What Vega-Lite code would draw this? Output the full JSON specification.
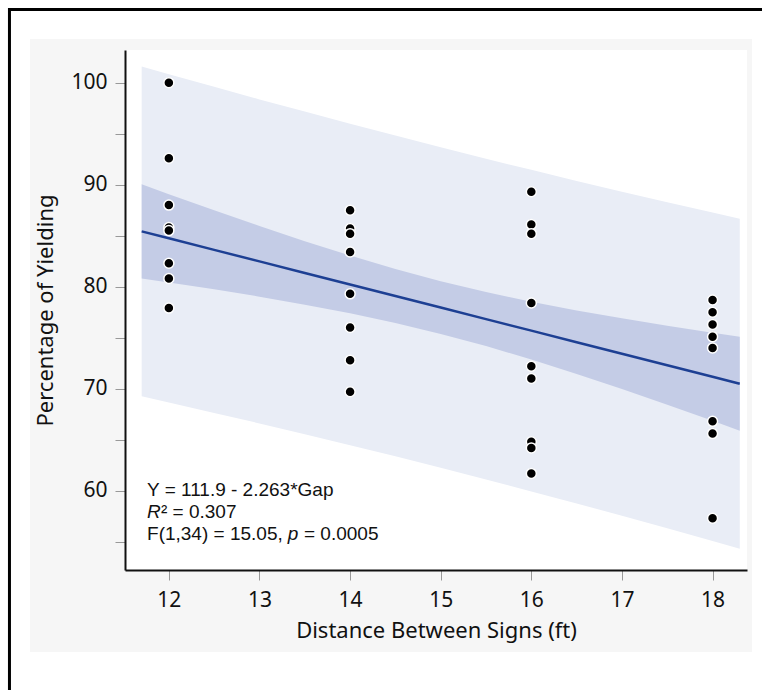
{
  "$schema": "https://vega.github.io/schema/vega-lite/v6.json",
  "width": 622,
  "height": 520,
  "autosize": {"type": "none"},
  "padding": {"left": 125, "top": 50, "right": 15, "bottom": 120},
  "background": "white",
  "config": {
    "view": {"stroke": null},
    "font": "Noto Sans"
  },
  "datasets": {
    "pts": [
      {"gap": 12, "pct": 100.0}, {"gap": 12, "pct": 92.6}, {"gap": 12, "pct": 88.0}, {"gap": 12, "pct": 85.8},
      {"gap": 12, "pct": 85.5}, {"gap": 12, "pct": 82.3}, {"gap": 12, "pct": 80.8}, {"gap": 12, "pct": 77.9},
      {"gap": 14, "pct": 87.5}, {"gap": 14, "pct": 85.7}, {"gap": 14, "pct": 85.2}, {"gap": 14, "pct": 83.4},
      {"gap": 14, "pct": 79.3}, {"gap": 14, "pct": 76.0}, {"gap": 14, "pct": 72.8}, {"gap": 14, "pct": 69.7},
      {"gap": 16, "pct": 89.3}, {"gap": 16, "pct": 86.1}, {"gap": 16, "pct": 85.2}, {"gap": 16, "pct": 78.4},
      {"gap": 16, "pct": 72.2}, {"gap": 16, "pct": 71.0}, {"gap": 16, "pct": 64.8}, {"gap": 16, "pct": 64.2},
      {"gap": 16, "pct": 61.7},
      {"gap": 18, "pct": 78.7}, {"gap": 18, "pct": 77.5}, {"gap": 18, "pct": 76.3}, {"gap": 18, "pct": 75.1},
      {"gap": 18, "pct": 74.0}, {"gap": 18, "pct": 66.8}, {"gap": 18, "pct": 65.6}, {"gap": 18, "pct": 57.3}
    ],
    "band": [
      {"gap": 11.7, "fit": 85.42, "ci_lo": 80.81, "ci_hi": 90.03, "pi_lo": 69.25, "pi_hi": 101.59},
      {"gap": 12.0, "fit": 84.74, "ci_lo": 80.42, "ci_hi": 89.06, "pi_lo": 68.65, "pi_hi": 100.83},
      {"gap": 12.5, "fit": 83.61, "ci_lo": 79.74, "ci_hi": 87.49, "pi_lo": 67.63, "pi_hi": 99.59},
      {"gap": 13.0, "fit": 82.48, "ci_lo": 79.02, "ci_hi": 85.95, "pi_lo": 66.60, "pi_hi": 98.36},
      {"gap": 13.5, "fit": 81.35, "ci_lo": 78.24, "ci_hi": 84.46, "pi_lo": 65.54, "pi_hi": 97.16},
      {"gap": 14.0, "fit": 80.22, "ci_lo": 77.39, "ci_hi": 83.05, "pi_lo": 64.46, "pi_hi": 95.98},
      {"gap": 14.5, "fit": 79.09, "ci_lo": 76.44, "ci_hi": 81.73, "pi_lo": 63.37, "pi_hi": 94.81},
      {"gap": 15.0, "fit": 77.96, "ci_lo": 75.37, "ci_hi": 80.54, "pi_lo": 62.25, "pi_hi": 93.67},
      {"gap": 15.5, "fit": 76.82, "ci_lo": 74.18, "ci_hi": 79.47, "pi_lo": 61.10, "pi_hi": 92.54},
      {"gap": 16.0, "fit": 75.69, "ci_lo": 72.86, "ci_hi": 78.52, "pi_lo": 59.93, "pi_hi": 91.45},
      {"gap": 16.5, "fit": 74.56, "ci_lo": 71.45, "ci_hi": 77.67, "pi_lo": 58.75, "pi_hi": 90.37},
      {"gap": 17.0, "fit": 73.43, "ci_lo": 69.96, "ci_hi": 76.90, "pi_lo": 57.55, "pi_hi": 89.31},
      {"gap": 17.5, "fit": 72.30, "ci_lo": 68.42, "ci_hi": 76.17, "pi_lo": 56.32, "pi_hi": 88.28},
      {"gap": 18.0, "fit": 71.17, "ci_lo": 66.85, "ci_hi": 75.49, "pi_lo": 55.08, "pi_hi": 87.26},
      {"gap": 18.3, "fit": 70.49, "ci_lo": 65.88, "ci_hi": 75.10, "pi_lo": 54.32, "pi_hi": 86.66}
    ]
  },
  "layer": [
    {
      "data": {"values": [{}]},
      "mark": {"type": "rect", "fill": "#f6f6f6", "clip": false},
      "encoding": {
        "x": {"datum": 10.468, "type": "quantitative", "scale": {"domain": [11.516, 18.38], "nice": false, "zero": false},
              "axis": {"zindex": 2, "grid": false, "title": "Distance Between Signs (ft)", "values": [12, 13, 14, 15, 16, 17, 18], "format": "d",
                       "domainColor": "#111", "domainWidth": 2, "tickColor": "#999", "tickSize": 10, "tickWidth": 1,
                       "labelFontSize": 21, "labelColor": "#111", "labelPadding": 9, "labelFlush": false,
                       "titleFontSize": 22, "titleFontWeight": "normal", "titleColor": "#111", "titlePadding": 10}},
        "x2": {"datum": 18.435},
        "y": {"datum": 104.28, "type": "quantitative", "scale": {"domain": [52.23, 103.2], "nice": false, "zero": false},
              "axis": {"zindex": 2, "grid": false, "title": "Percentage of Yielding", "values": [55, 60, 65, 70, 75, 80, 85, 90, 95, 100],
                       "labelExpr": "datum.value % 10 === 0 ? datum.label : ''",
                       "domainColor": "#111", "domainWidth": 2, "tickColor": "#999", "tickSize": 10, "tickWidth": 1,
                       "labelFontSize": 21, "labelColor": "#111", "labelPadding": 8, "labelFlush": false,
                       "titleFontSize": 22, "titleFontWeight": "normal", "titleColor": "#111", "titlePadding": 13}},
        "y2": {"datum": 44.19}
      }
    },
    {
      "data": {"values": [{}]},
      "mark": {"type": "rect", "filled": false, "stroke": "#000", "strokeWidth": 3, "clip": false},
      "encoding": {
        "x": {"datum": 10.241, "type": "quantitative"},
        "x2": {"datum": 19.6},
        "y": {"datum": 107.17, "type": "quantitative"},
        "y2": {"datum": 30}
      }
    },
    {
      "data": {"values": [{}]},
      "mark": {"type": "rect", "fill": "#ffffff"},
      "encoding": {
        "x": {"datum": 11.516, "type": "quantitative"},
        "x2": {"datum": 18.38},
        "y": {"datum": 52.23, "type": "quantitative"},
        "y2": {"datum": 103.2}
      }
    },
    {
      "data": {"name": "band"},
      "mark": {"type": "area", "fill": "#e9edf6", "opacity": 1},
      "encoding": {
        "x": {"field": "gap", "type": "quantitative"},
        "y": {"field": "pi_lo", "type": "quantitative"},
        "y2": {"field": "pi_hi"}
      }
    },
    {
      "data": {"name": "band"},
      "mark": {"type": "area", "fill": "#c4cce6", "opacity": 1},
      "encoding": {
        "x": {"field": "gap", "type": "quantitative"},
        "y": {"field": "ci_lo", "type": "quantitative"},
        "y2": {"field": "ci_hi"}
      }
    },
    {
      "data": {"name": "band"},
      "mark": {"type": "line", "color": "#1d3f93", "strokeWidth": 2.5},
      "encoding": {
        "x": {"field": "gap", "type": "quantitative"},
        "y": {"field": "fit", "type": "quantitative"}
      }
    },
    {
      "data": {"name": "pts"},
      "mark": {"type": "circle", "size": 100, "fill": "#000", "opacity": 1, "stroke": "#fff", "strokeWidth": 1.5},
      "encoding": {
        "x": {"field": "gap", "type": "quantitative"},
        "y": {"field": "pct", "type": "quantitative"}
      }
    },
    {
      "data": {"values": [
        {"gx": 11.759, "gy": 60.07, "t": "Y = 111.9 - 2.263*Gap"},
        {"gx": 11.913, "gy": 57.91, "t": "² = 0.307"},
        {"gx": 11.759, "gy": 55.75, "t": "F(1,34) = 15.05,"},
        {"gx": 13.491, "gy": 55.75, "t": "= 0.0005"}
      ]},
      "mark": {"type": "text", "align": "left", "baseline": "middle", "font": "Liberation Sans", "fontSize": 19, "color": "#111"},
      "encoding": {
        "x": {"field": "gx", "type": "quantitative"},
        "y": {"field": "gy", "type": "quantitative"},
        "text": {"field": "t"}
      }
    },
    {
      "data": {"values": [
        {"gx": 11.759, "gy": 57.91, "t": "R"},
        {"gx": 13.312, "gy": 55.75, "t": "p"}
      ]},
      "mark": {"type": "text", "align": "left", "baseline": "middle", "font": "Liberation Sans", "fontSize": 19, "fontStyle": "italic", "color": "#111"},
      "encoding": {
        "x": {"field": "gx", "type": "quantitative"},
        "y": {"field": "gy", "type": "quantitative"},
        "text": {"field": "t"}
      }
    }
  ]
}
